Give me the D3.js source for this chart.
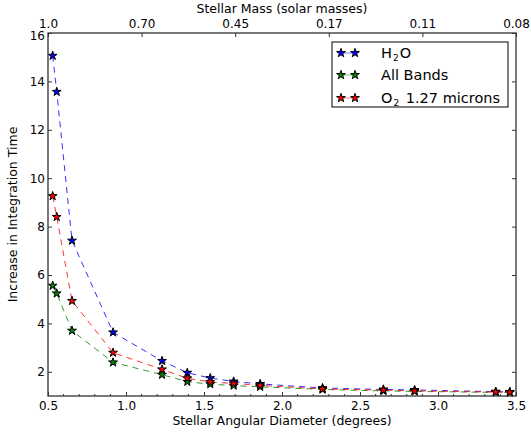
<!DOCTYPE html>
<html><head><meta charset="utf-8">
<script src="https://cdn.jsdelivr.net/npm/d3@7"></script>
<style>body{margin:0;background:#fff;} text{font-family:"DejaVu Sans",sans-serif;}</style>
</head><body><svg id="c" width="531" height="433"></svg>
<script>
const diameters = [0.53, 0.556, 0.654, 0.917, 1.231, 1.393, 1.54, 1.69, 1.86, 2.26, 2.65, 2.85, 3.37, 3.46];
const h2o = [15.06, 13.57, 7.42, 3.63, 2.45, 1.96, 1.74, 1.60, 1.50, 1.33, 1.27, 1.25, 1.18, 1.17];
const allBands = [5.56, 5.24, 3.70, 2.39, 1.88, 1.59, 1.49, 1.43, 1.38, 1.27, 1.21, 1.19, 1.15, 1.14];
const o2 = [9.26, 8.40, 4.93, 2.79, 2.10, 1.73, 1.58, 1.52, 1.44, 1.29, 1.24, 1.21, 1.16, 1.15];
const xTicks = [0.5, 1.0, 1.5, 2.0, 2.5, 3.0, 3.5];
const yTicks = [2, 4, 6, 8, 10, 12, 14, 16];
const massTickPos = [0.5, 1.1, 1.7, 2.3, 2.9, 3.5];
const massTickLabels = ["1.0", "0.70", "0.45", "0.17", "0.11", "0.08"];

const series = [
  {name: "H2O", values: h2o, color: "#0000ff"},
  {name: "All Bands", values: allBands, color: "#008000"},
  {name: "O2", values: o2, color: "#ff0000"}
];

const L = 48, R = 516, T = 33, B = 396;
const x = d3.scaleLinear().domain([0.5, 3.5]).range([L, R]);
const y = d3.scaleLinear().domain([1, 16]).range([B, T]);
const svg = d3.select("#c");
const axisColor = "#333";

// lines and markers
const line = d3.line().x((d,i)=>x(diameters[i])).y(d=>y(d));
const star = d3.symbol().type(d3.symbolStar).size(24);
series.forEach(s => {
  svg.append("path").attr("d", line(s.values)).attr("fill","none")
    .attr("stroke", s.color).attr("stroke-opacity",0.8).attr("stroke-width",1).attr("stroke-dasharray","6,5");
});
series.forEach(s => {
  svg.append("g").selectAll("path").data(s.values).join("path")
    .attr("d", star).attr("transform",(d,i)=>`translate(${x(diameters[i])},${y(d)})`)
    .attr("fill", s.color).attr("stroke","#000").attr("stroke-width",1);
});

// frame
svg.append("rect").attr("x",L).attr("y",T).attr("width",R-L).attr("height",B-T)
  .attr("fill","none").attr("stroke",axisColor).attr("stroke-width",1.3);

// bottom axis (inward ticks)
const bx = d3.axisBottom(x).tickValues(xTicks).tickFormat(d3.format(".1f")).tickSizeInner(-4).tickSizeOuter(0).tickPadding(5);
const gb = svg.append("g").attr("transform",`translate(0,${B})`).call(bx);
const minor = d3.range(0.6, 3.5, 0.1).filter(v => Math.abs(v*2 - Math.round(v*2)) > 0.01);
gb.selectAll(".minor").data(minor).join("line").attr("class","minor")
  .attr("x1",d=>x(d)).attr("x2",d=>x(d)).attr("y1",0).attr("y2",-2).attr("stroke",axisColor);

// left axis
const ly = d3.axisLeft(y).tickValues(yTicks).tickSizeInner(-4).tickSizeOuter(0).tickPadding(3);
const gl = svg.append("g").attr("transform",`translate(${L},0)`).call(ly);
// right ticks
const gr = svg.append("g").attr("transform",`translate(${R},0)`).call(d3.axisRight(y).tickValues(yTicks).tickSizeInner(-4).tickSizeOuter(0).tickFormat(""));
// top axis
const topAxis = d3.axisTop(x).tickValues(massTickPos).tickFormat((d,i)=>massTickLabels[i]).tickSizeInner(-4).tickSizeOuter(0).tickPadding(5);
const gt = svg.append("g").attr("transform",`translate(0,${T})`).call(topAxis);

[gb,gl,gr,gt].forEach(g=>{
  g.select(".domain").remove();
  g.selectAll("line").attr("stroke",axisColor);
  g.selectAll("text").attr("font-size",12).attr("fill","#000").attr("font-family","DejaVu Sans");
});
gl.selectAll(".tick").filter(d=>d===16).select("text").attr("dy","0.5em");

// axis labels
svg.append("text").attr("x",(L+R)/2).attr("y",425).attr("text-anchor","middle").attr("font-size",12.5).text("Stellar Angular Diameter (degrees)");
svg.append("text").attr("x",(L+R)/2).attr("y",13).attr("text-anchor","middle").attr("font-size",12.5).text("Stellar Mass (solar masses)");
svg.append("text").attr("transform",`translate(17,${(T+B)/2}) rotate(-90)`).attr("text-anchor","middle").attr("font-size",12.5).text("Increase in Integration Time");

// legend
const lg = svg.append("g");
lg.append("rect").attr("x",332).attr("y",42).attr("width",176).attr("height",65).attr("fill","#fff").attr("stroke","#000").attr("stroke-width",1);
const rows = [53, 75, 98];
series.forEach((s,i)=>{
  const yy = rows[i];
  lg.append("line").attr("x1",341).attr("x2",355).attr("y1",yy).attr("y2",yy).attr("stroke",s.color).attr("stroke-opacity",0.5);
  [341,355].forEach(px=>lg.append("path").attr("d",star).attr("transform",`translate(${px},${yy})`).attr("fill",s.color).attr("stroke","#000").attr("stroke-width",1));
  const t = lg.append("text").attr("x",381).attr("y",yy+5).attr("font-size",14.5);
  if (i===0){ t.append("tspan").text("H"); t.append("tspan").attr("font-size",9).attr("dx",1).attr("dy",3).text("2"); t.append("tspan").attr("dx",1).attr("dy",-3).text("O"); }
  else if (i===1){ t.text("All Bands"); }
  else { t.append("tspan").text("O"); t.append("tspan").attr("font-size",9).attr("dx",1).attr("dy",3).text("2"); t.append("tspan").attr("dx",2).attr("dy",-3).text(" 1.27 microns"); }
});
</script></body></html>
